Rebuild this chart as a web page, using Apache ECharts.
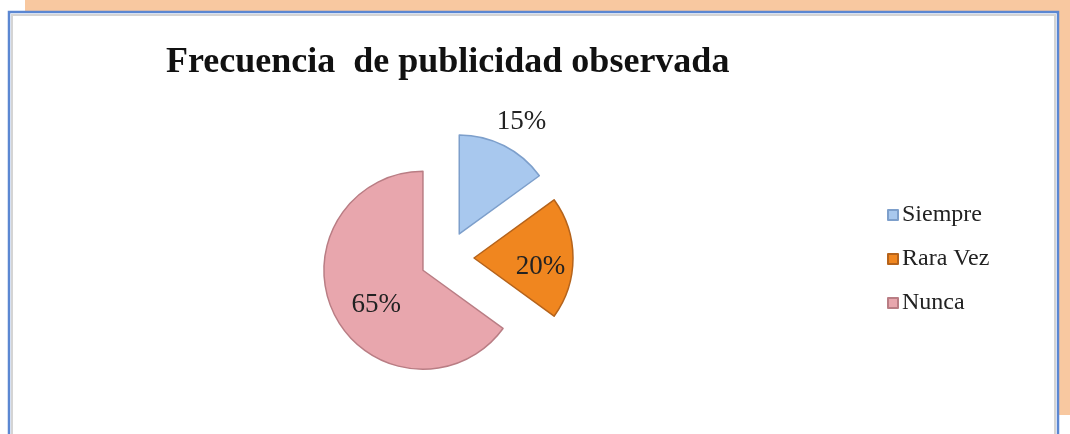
<!DOCTYPE html>
<html>
<head>
<meta charset="utf-8">
<style>
  html, body { margin: 0; padding: 0; background: #fff; }
  #chart { width: 1070px; height: 434px; }
</style>
<script src="https://cdn.jsdelivr.net/npm/echarts@6/dist/echarts.min.js"></script>
</head>
<body>
<div id="chart"></div>
<script>
// datos del grafico
const categories = ['Siempre', 'Rara Vez', 'Nunca'];
const values = [15, 20, 65];
const fillColors = ['#a8c8ee', '#f0861f', '#e8a6ad'];
const edgeColors = ['#7d9fcb', '#b5631b', '#b97d84'];

const chart = echarts.init(document.getElementById('chart'));

const serif = '"Liberation Serif", "DejaVu Serif", serif';

// desplazamiento fino de cada etiqueta
const labelShift = [[-16, -17], [14, 9], [0, 11]];

const pieData = categories.map((name, i) => ({
  name: name,
  value: values[i],
  selected: true,
  itemStyle: { color: fillColors[i], borderColor: edgeColors[i], borderWidth: 1.5 },
  select: { itemStyle: { color: fillColors[i], borderColor: edgeColors[i], borderWidth: 1.5 } },
  label: i === 0 ? { position: 'outside' } : { position: 'inside' }
}));

const option = {
  animation: false,
  graphic: [
    {
      type: 'rect', z: -10, silent: true,
      shape: { x: 25, y: 0, width: 1045, height: 415 },
      style: { fill: '#f8c8a0' }
    },
    {
      type: 'rect', z: -9, silent: true,
      shape: { x: 9, y: 12, width: 1049, height: 430 },
      style: { fill: '#ffffff', stroke: '#5b87d2', lineWidth: 2.5 }
    },
    {
      type: 'rect', z: -8, silent: true,
      shape: { x: 12, y: 15, width: 1043, height: 430 },
      style: { fill: 'none', stroke: '#d4d4d4', lineWidth: 2 }
    }
  ],
  title: {
    text: 'Frecuencia  de publicidad observada',
    left: 161,
    top: 40,
    textStyle: { fontFamily: serif, fontSize: 36, fontWeight: 'bold', color: '#111' }
  },
  legend: {
    orient: 'vertical',
    left: 882,
    top: 198,
    icon: 'rect',
    itemWidth: 10,
    itemHeight: 10,
    itemGap: 20,
    selectedMode: false,
    data: categories,
    textStyle: { fontFamily: serif, fontSize: 24, color: '#222', padding: [0, 0, 0, -1] }
  },
  series: [{
    type: 'pie',
    center: [447, 258],
    radius: 99,
    startAngle: 90,
    clockwise: true,
    selectedMode: 'multiple',
    selectedOffset: 27,
    emphasis: { disabled: true },
    label: {
      show: true,
      formatter: '{c}%',
      fontFamily: serif,
      fontSize: 27,
      color: '#222'
    },
    labelLine: { show: false, length: 8, length2: 0 },
    labelLayout: function (params) {
      const s = labelShift[params.dataIndex];
      return { dx: s[0], dy: s[1] };
    },
    data: pieData
  }]
};

chart.setOption(option);
</script>
</body>
</html>
